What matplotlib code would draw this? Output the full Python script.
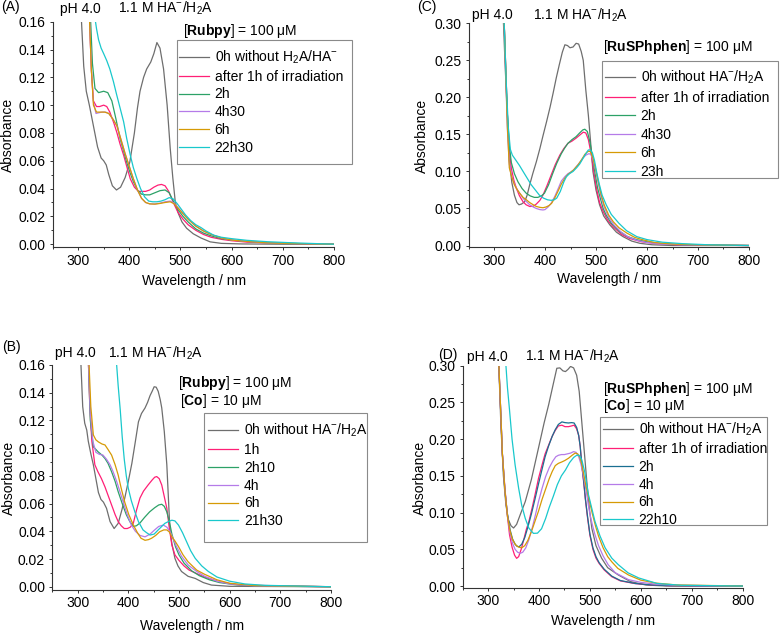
import matplotlib
matplotlib.use("Agg")
import matplotlib.pyplot as plt
from matplotlib.lines import Line2D
from matplotlib.patches import Rectangle
from matplotlib.ticker import MultipleLocator, FormatStrFormatter

plt.rcParams["font.family"] = ["Liberation Sans", "DejaVu Sans"]
plt.rcParams["mathtext.fontset"] = "custom"
plt.rcParams["mathtext.rm"] = "Liberation Sans"
plt.rcParams["mathtext.bf"] = "Liberation Sans:bold"
plt.rcParams["mathtext.it"] = "Liberation Sans:italic"
plt.rcParams["font.size"] = 10

# ---------------- data ----------------
# panel A : Rubpy, no catalyst
A_0H_WL = [306, 311, 316, 322, 330, 338, 345, 350, 355, 360, 367, 375, 383, 392, 401, 410, 416, 421, 428, 434,
           442, 448, 454, 460, 467, 474, 480, 485, 490, 496, 503, 512, 525, 540, 558, 580, 620, 700, 800]
A_0H_ABS = [0.165, 0.128, 0.110, 0.100, 0.085, 0.070, 0.062, 0.060, 0.057, 0.050, 0.042, 0.039, 0.041, 0.048,
            0.059, 0.080, 0.098, 0.110, 0.120, 0.126, 0.131, 0.137, 0.145, 0.141, 0.126, 0.100, 0.069, 0.048,
            0.030, 0.022, 0.016, 0.0115, 0.0075, 0.0045, 0.0017, 0.0006, 0.0002, 0.0, 0.0]
A_1H_WL = [322, 326, 330, 336, 342, 350, 356, 362, 370, 376, 382, 389, 395, 402, 410, 418, 425, 432, 440, 448,
           456, 463, 470, 477, 486, 495, 505, 515, 530, 545, 560, 580, 600, 630, 670, 720, 800]
A_1H_ABS = [0.165, 0.125, 0.103, 0.099, 0.099, 0.100, 0.099, 0.095, 0.087, 0.080, 0.072, 0.064, 0.056, 0.047,
            0.041, 0.038, 0.038, 0.038, 0.039, 0.041, 0.0425, 0.043, 0.042, 0.038, 0.030, 0.023, 0.018, 0.014,
            0.010, 0.007, 0.005, 0.0035, 0.0025, 0.0015, 0.001, 0.0005, 0.0]
A_2H_WL = [324, 328, 333, 340, 350, 358, 366, 374, 382, 389, 395, 402, 408, 416, 424, 432, 440, 450, 460, 470,
           478, 486, 495, 505, 515, 530, 545, 560, 580, 600, 630, 670, 720, 800]
A_2H_ABS = [0.165, 0.130, 0.112, 0.109, 0.110, 0.109, 0.103, 0.090, 0.076, 0.067, 0.059, 0.051, 0.045, 0.039,
            0.036, 0.0355, 0.0355, 0.037, 0.0385, 0.039, 0.037, 0.031, 0.025, 0.020, 0.016, 0.011, 0.008, 0.006,
            0.004, 0.003, 0.002, 0.001, 0.0005, 0.0]
A_4H_WL = [322, 326, 330, 335, 340, 347, 354, 360, 368, 376, 384, 392, 400, 408, 416, 424, 432, 440, 450, 460,
           470, 480, 488, 495, 505, 515, 530, 545, 560, 580, 600, 630, 670, 720, 800]
A_4H_ABS = [0.165, 0.125, 0.102, 0.094, 0.0945, 0.095, 0.095, 0.094, 0.090, 0.085, 0.075, 0.065, 0.056, 0.047,
            0.039, 0.033, 0.030, 0.029, 0.029, 0.0295, 0.0305, 0.031, 0.0295, 0.0265, 0.022, 0.018, 0.013,
            0.0095, 0.007, 0.0045, 0.003, 0.002, 0.001, 0.0005, 0.0]
A_6H_WL = [322, 326, 330, 336, 345, 352, 360, 368, 376, 384, 392, 400, 408, 416, 424, 432, 440, 450, 460, 470,
           480, 488, 495, 505, 515, 530, 545, 560, 580, 600, 630, 670, 720, 800]
A_6H_ABS = [0.165, 0.125, 0.100, 0.095, 0.095, 0.095, 0.094, 0.090, 0.085, 0.075, 0.065, 0.056, 0.047, 0.039,
            0.033, 0.030, 0.029, 0.0288, 0.0293, 0.030, 0.0305, 0.029, 0.026, 0.022, 0.018, 0.013, 0.0095, 0.007,
            0.0045, 0.003, 0.002, 0.001, 0.0005, 0.0]
A_22H_WL = [332, 336, 340, 345, 350, 356, 362, 369, 375, 382, 389, 395, 402, 408, 415, 422, 430, 438, 446, 454,
            462, 470, 478, 486, 494, 502, 510, 520, 530, 540, 550, 565, 580, 600, 630, 670, 720, 800]
A_22H_ABS = [0.165, 0.155, 0.147, 0.141, 0.137, 0.132, 0.126, 0.117, 0.108, 0.098, 0.088, 0.076, 0.064, 0.055,
             0.047, 0.040, 0.034, 0.031, 0.0305, 0.0305, 0.031, 0.032, 0.0335, 0.0325, 0.029, 0.025, 0.021,
             0.017, 0.014, 0.012, 0.0095, 0.0065, 0.005, 0.004, 0.0028, 0.0018, 0.001, 0.0]

# panel B : Rubpy + Co
B_0H_WL = [306, 310, 314, 318, 321, 326, 331, 336, 341, 346, 351, 357, 364, 372, 380, 387, 393, 400, 407, 414,
           420, 426, 433, 438, 443, 447, 451, 455, 459, 463, 466, 471, 476, 479, 482, 486, 492, 498, 505, 518,
           532, 548, 564, 600, 800]
B_0H_ABS = [0.165, 0.13, 0.118, 0.113, 0.105, 0.096, 0.088, 0.078, 0.068, 0.063, 0.061, 0.0566, 0.047, 0.042,
            0.0457, 0.055, 0.064, 0.076, 0.089, 0.105, 0.119, 0.125, 0.129, 0.133, 0.138, 0.141, 0.1443, 0.144,
            0.141, 0.135, 0.129, 0.112, 0.088, 0.065, 0.042, 0.031, 0.0205, 0.015, 0.011, 0.0075, 0.006, 0.003,
            0.0012, 0.0003, 0.0]
B_1H_WL = [321, 324, 328, 334, 340, 347, 354, 360, 367, 374, 380, 386, 392, 398, 404, 410, 416, 423, 430, 439,
           447, 452, 456, 461, 466, 471, 476, 481, 486, 492, 500, 510, 520, 550, 580, 620, 800]
B_1H_ABS = [0.165, 0.130, 0.105, 0.088, 0.083, 0.078, 0.072, 0.066, 0.059, 0.052, 0.047, 0.044, 0.042, 0.042,
            0.043, 0.046, 0.055, 0.064, 0.069, 0.0734, 0.077, 0.079, 0.0795, 0.078, 0.0734, 0.065, 0.0566, 0.042,
            0.030, 0.023, 0.019, 0.015, 0.012, 0.007, 0.0035, 0.0012, 0.0]
B_2H_WL = [321, 325, 331, 340, 348, 354, 360, 367, 374, 380, 388, 396, 403, 410, 416, 423, 432, 442, 452, 460,
           466, 471, 476, 481, 486, 493, 500, 510, 525, 540, 560, 580, 610, 660, 800]
B_2H_ABS = [0.165, 0.12, 0.101, 0.0975, 0.095, 0.0925, 0.089, 0.083, 0.076, 0.0686, 0.060, 0.052, 0.047,
            0.0435, 0.044, 0.046, 0.050, 0.054, 0.057, 0.059, 0.0595, 0.058, 0.054, 0.047, 0.038, 0.029, 0.023,
            0.017, 0.0115, 0.008, 0.005, 0.003, 0.0015, 0.0005, 0.0]
B_4H_WL = [321, 325, 330, 336, 343, 350, 357, 364, 370, 377, 384, 390, 398, 406, 414, 423, 433, 443, 452, 460,
           469, 476, 482, 488, 495, 505, 518, 535, 551, 575, 600, 650, 800]
B_4H_ABS = [0.165, 0.125, 0.105, 0.097, 0.0955, 0.095, 0.092, 0.088, 0.083, 0.076, 0.068, 0.061, 0.052, 0.0445,
            0.040, 0.037, 0.036, 0.038, 0.041, 0.0435, 0.0445, 0.043, 0.040, 0.035, 0.029, 0.022, 0.0157, 0.011,
            0.0075, 0.004, 0.002, 0.0006, 0.0]
B_6H_WL = [322, 326, 331, 336, 341, 348, 354, 360, 367, 374, 380, 386, 393, 401, 410, 418, 425, 433, 440, 446,
           454, 462, 470, 476, 481, 486, 492, 499, 508, 518, 535, 551, 575, 600, 650, 800]
B_6H_ABS = [0.165, 0.13, 0.1095, 0.106, 0.1045, 0.103, 0.1023, 0.099, 0.095, 0.088, 0.0806, 0.071, 0.061, 0.052,
            0.0445, 0.039, 0.035, 0.0335, 0.034, 0.035, 0.037, 0.0397, 0.041, 0.041, 0.0395, 0.036, 0.033, 0.029,
            0.023, 0.018, 0.012, 0.0089, 0.005, 0.0025, 0.0008, 0.0]
B_21H_WL = [374, 377, 380, 384, 388, 392, 396, 400, 406, 413, 420, 429, 436, 443, 451, 459, 466, 472, 479, 486,
            492, 499, 507, 515, 523, 532, 545, 558, 575, 600, 630, 670, 800]
B_21H_ABS = [0.175, 0.16, 0.145, 0.128, 0.108, 0.092, 0.080, 0.071, 0.062, 0.054, 0.047, 0.041, 0.039, 0.0373,
             0.038, 0.041, 0.0435, 0.0457, 0.047, 0.048, 0.0475, 0.0445, 0.039, 0.0325, 0.026, 0.0205, 0.015,
             0.011, 0.007, 0.004, 0.002, 0.001, 0.0]

# panel C : RuSPhphen, no catalyst
C_0H_WL = [318, 322, 326, 330, 335, 340, 345, 349, 354, 360, 365, 370, 376, 383, 390, 396, 403, 410, 416, 422,
           428, 434, 439, 444, 449, 455, 461, 466, 471, 475, 480, 485, 490, 494, 500, 507, 515, 527, 540, 553,
           570, 586, 610, 650, 800]
C_0H_ABS = [0.31, 0.24, 0.18, 0.115, 0.085, 0.068, 0.058, 0.055, 0.056, 0.059, 0.068, 0.082, 0.097, 0.113,
            0.131, 0.148, 0.167, 0.187, 0.206, 0.226, 0.244, 0.261, 0.271, 0.27, 0.267, 0.268, 0.273, 0.272,
            0.262, 0.25, 0.21, 0.176, 0.135, 0.10, 0.075, 0.055, 0.040, 0.028, 0.018, 0.012, 0.006, 0.003,
            0.001, 0.0, 0.0]
C_1H_WL = [320, 323, 326, 330, 334, 339, 344, 350, 357, 363, 370, 377, 383, 390, 396, 404, 412, 420, 429, 437,
           445, 453, 461, 468, 475, 480, 485, 491, 496, 501, 507, 514, 523, 534, 550, 566, 590, 620, 660, 800]
C_1H_ABS = [0.30, 0.24, 0.18, 0.13, 0.104, 0.088, 0.077, 0.067, 0.059, 0.055, 0.0527, 0.053, 0.056, 0.061, 0.068,
            0.081, 0.095, 0.109, 0.122, 0.131, 0.138, 0.141, 0.145, 0.149, 0.153, 0.152, 0.143, 0.122, 0.098,
            0.077, 0.058, 0.046, 0.034, 0.025, 0.015, 0.0095, 0.005, 0.0025, 0.001, 0.0]
C_2H_WL = [320, 323, 326, 330, 334, 340, 347, 355, 363, 371, 379, 386, 393, 399, 407, 415, 423, 432, 439, 445,
           453, 461, 468, 474, 478, 483, 488, 493, 498, 503, 508, 514, 520, 530, 546, 562, 579, 600, 630, 670, 800]
C_2H_ABS = [0.30, 0.24, 0.18, 0.135, 0.112, 0.097, 0.086, 0.077, 0.0707, 0.067, 0.065, 0.065, 0.067, 0.0707,
            0.082, 0.097, 0.111, 0.124, 0.132, 0.138, 0.143, 0.147, 0.152, 0.156, 0.157, 0.154, 0.140, 0.120,
            0.098, 0.078, 0.065, 0.050, 0.041, 0.030, 0.019, 0.012, 0.008, 0.005, 0.0025, 0.001, 0.0]
C_4H_WL = [320, 323, 326, 330, 335, 340, 346, 352, 358, 364, 370, 377, 383, 390, 396, 400, 406, 412, 419, 426,
           432, 439, 445, 450, 456, 462, 468, 474, 480, 486, 490, 494, 499, 504, 510, 516, 525, 535, 548, 562,
           580, 600, 630, 670, 800]
C_4H_ABS = [0.30, 0.23, 0.16, 0.11, 0.093, 0.083, 0.075, 0.069, 0.063, 0.059, 0.055, 0.052, 0.050, 0.0485, 0.048,
            0.0485, 0.052, 0.057, 0.066, 0.077, 0.087, 0.093, 0.097, 0.099, 0.102, 0.107, 0.112, 0.118, 0.122,
            0.124, 0.123, 0.116, 0.102, 0.086, 0.066, 0.052, 0.038, 0.028, 0.019, 0.012, 0.007, 0.004, 0.002,
            0.001, 0.0]
C_6H_WL = [320, 323, 326, 330, 335, 340, 344, 350, 357, 363, 370, 377, 383, 390, 396, 402, 408, 413, 419, 426,
           432, 439, 445, 449, 456, 465, 472, 478, 484, 489, 494, 499, 504, 510, 516, 525, 534, 545, 560, 576,
           592, 615, 650, 700, 800]
C_6H_ABS = [0.30, 0.235, 0.165, 0.105, 0.092, 0.082, 0.077, 0.071, 0.065, 0.062, 0.058, 0.055, 0.0527, 0.0515,
            0.051, 0.052, 0.054, 0.057, 0.064, 0.074, 0.083, 0.091, 0.096, 0.098, 0.102, 0.109, 0.116, 0.123,
            0.127, 0.127, 0.118, 0.104, 0.088, 0.069, 0.055, 0.041, 0.032, 0.024, 0.017, 0.011, 0.0077, 0.004,
            0.002, 0.001, 0.0]
C_23H_WL = [320, 324, 328, 332, 336, 340, 345, 350, 357, 365, 373, 381, 389, 397, 405, 412, 418, 423, 430, 437,
            442, 448, 455, 462, 468, 474, 480, 485, 489, 493, 497, 501, 506, 512, 520, 530, 545, 560, 580, 600,
            630, 670, 720, 800]
C_23H_ABS = [0.30, 0.22, 0.16, 0.13, 0.122, 0.118, 0.113, 0.108, 0.100, 0.091, 0.082, 0.075, 0.068, 0.064,
             0.0617, 0.061, 0.0617, 0.064, 0.073, 0.086, 0.093, 0.097, 0.100, 0.105, 0.110, 0.117, 0.124, 0.129,
             0.129, 0.125, 0.115, 0.100, 0.084, 0.068, 0.055, 0.042, 0.030, 0.020, 0.012, 0.008, 0.0045, 0.0025,
             0.001, 0.0]

# panel D : RuSPhphen + Co
D_0H_WL = [320, 325, 330, 335, 340, 345, 350, 356, 363, 373, 385, 399, 410, 419, 428, 435, 441, 447, 452, 457,
           462, 468, 474, 479, 484, 489, 494, 499, 504, 512, 523, 535, 556, 580, 610, 650, 800]
D_0H_ABS = [0.32, 0.22, 0.15, 0.11, 0.09, 0.082, 0.079, 0.084, 0.097, 0.115, 0.145, 0.188, 0.222, 0.247, 0.275,
            0.2965, 0.297, 0.293, 0.292, 0.295, 0.299, 0.297, 0.287, 0.265, 0.224, 0.183, 0.142, 0.105, 0.078,
            0.055, 0.038, 0.025, 0.015, 0.006, 0.0014, 0.0, 0.0]
D_1H_WL = [320, 324, 328, 333, 338, 342, 347, 352, 356, 360, 365, 370, 375, 380, 387, 393, 399, 406, 412, 419,
           426, 432, 438, 445, 451, 458, 464, 469, 474, 478, 481, 484, 488, 491, 495, 500, 506, 512, 518, 528,
           543, 560, 589, 620, 660, 800]
D_1H_ABS = [0.32, 0.25, 0.18, 0.133, 0.095, 0.070, 0.053, 0.042, 0.0377, 0.040, 0.050, 0.063, 0.077, 0.0876,
            0.108, 0.127, 0.1466, 0.165, 0.180, 0.192, 0.204, 0.212, 0.218, 0.219, 0.217, 0.217, 0.218, 0.219,
            0.214, 0.205, 0.19, 0.165, 0.14, 0.119, 0.095, 0.0694, 0.050, 0.038, 0.031, 0.022, 0.0127, 0.007,
            0.0033, 0.0015, 0.0005, 0.0]
D_2H_WL = [320, 324, 328, 333, 338, 343, 348, 353, 357, 361, 366, 372, 378, 385, 392, 399, 406, 412, 419, 426,
           432, 438, 445, 451, 458, 464, 469, 474, 478, 481, 484, 488, 491, 495, 500, 506, 512, 518, 528, 543,
           560, 589, 620, 660, 800]
D_2H_ABS = [0.32, 0.25, 0.18, 0.13, 0.097, 0.077, 0.064, 0.057, 0.054, 0.0535, 0.057, 0.066, 0.080, 0.098,
            0.118, 0.139, 0.159, 0.176, 0.191, 0.204, 0.213, 0.220, 0.2235, 0.2225, 0.222, 0.2225, 0.222, 0.216,
            0.205, 0.19, 0.166, 0.142, 0.12, 0.097, 0.071, 0.052, 0.040, 0.032, 0.023, 0.0135, 0.0075, 0.0035,
            0.0015, 0.0005, 0.0]
D_4H_WL = [320, 324, 328, 333, 338, 343, 348, 353, 358, 363, 368, 374, 380, 387, 393, 399, 406, 413, 420, 427,
           433, 438, 444, 450, 456, 462, 468, 473, 478, 482, 486, 490, 494, 497, 501, 505, 510, 517, 526, 536,
           550, 576, 600, 630, 670, 800]
D_4H_ABS = [0.32, 0.25, 0.18, 0.13, 0.095, 0.072, 0.058, 0.050, 0.046, 0.0445, 0.046, 0.052, 0.063, 0.080,
            0.097, 0.115, 0.133, 0.149, 0.161, 0.170, 0.176, 0.178, 0.179, 0.179, 0.180, 0.181, 0.183, 0.182,
            0.176, 0.167, 0.155, 0.14, 0.124, 0.11, 0.095, 0.083, 0.07, 0.055, 0.041, 0.029, 0.018, 0.0087,
            0.005, 0.0025, 0.001, 0.0]
D_6H_WL = [320, 324, 328, 333, 338, 343, 348, 354, 360, 366, 372, 378, 385, 392, 399, 406, 413, 420, 426, 432,
           438, 445, 451, 458, 465, 471, 476, 480, 484, 488, 492, 496, 500, 505, 511, 517, 526, 535, 543, 555,
           576, 600, 630, 670, 800]
D_6H_ABS = [0.32, 0.25, 0.18, 0.13, 0.095, 0.075, 0.063, 0.056, 0.053, 0.052, 0.055, 0.062, 0.074, 0.088, 0.102,
            0.118, 0.132, 0.146, 0.156, 0.164, 0.167, 0.169, 0.171, 0.174, 0.178, 0.181, 0.18, 0.176, 0.166,
            0.152, 0.137, 0.125, 0.113, 0.098, 0.082, 0.068, 0.052, 0.040, 0.033, 0.024, 0.015, 0.008, 0.004,
            0.0015, 0.0]
D_22H_WL = [334, 338, 342, 347, 353, 360, 366, 373, 380, 389, 397, 405, 413, 420, 428, 436, 444, 452, 460, 468,
            474, 479, 484, 490, 497, 504, 510, 520, 530, 543, 556, 575, 596, 632, 680, 800]
D_22H_ABS = [0.31, 0.27, 0.24, 0.20, 0.165, 0.133, 0.11, 0.092, 0.079, 0.0717, 0.072, 0.078, 0.092, 0.107, 0.122,
             0.138, 0.150, 0.158, 0.168, 0.175, 0.178, 0.178, 0.172, 0.155, 0.125, 0.105, 0.088, 0.068, 0.052,
             0.038, 0.029, 0.018, 0.011, 0.0035, 0.001, 0.0]

GRAY, PINK, GREEN, PURPLE, ORANGE, CYAN, TEAL = ("#6e6e6e", "#ff1f76", "#2ca167", "#b57be8",
                                                 "#d69a05", "#19c8cc", "#1a6f91")
HA = r"HA$^{-}$/H$_2$A"

W, H = 780, 635
fig = plt.figure(figsize=(W / 100, H / 100), dpi=100)


def fx(x):
    return x / W


def fy(y):
    return 1 - y / H


def panel(box, ymax, ystep, series, labels, colors, texts, legend_anchor, legend_box, spacing, xlab, ylab):
    left, top, right, bottom = box
    ax = fig.add_axes([fx(left), fy(bottom), fx(right - left), (bottom - top) / H])
    for (wl, ab), c in zip(series, colors):
        ax.plot(wl, ab, color=c, lw=0.9)
    ax.set_xlim(250, 800)
    ax.set_ylim(-0.002, ymax)
    for s in ("top", "right"):
        ax.spines[s].set_visible(False)
    for s in ("left", "bottom"):
        ax.spines[s].set_linewidth(0.8)
        ax.spines[s].set_color("#333333")
    ax.xaxis.set_major_locator(MultipleLocator(100))
    ax.xaxis.set_minor_locator(MultipleLocator(50))
    ax.yaxis.set_major_locator(MultipleLocator(ystep))
    ax.yaxis.set_minor_locator(MultipleLocator(ystep / 2))
    ax.yaxis.set_major_formatter(FormatStrFormatter("%.2f"))
    ax.tick_params(which="both", direction="out", width=0.7, color="#333333", labelsize=10)
    ax.tick_params(which="major", length=2.2)
    ax.tick_params(which="minor", length=1.5)
    ax.tick_params(axis="y", pad=3)
    ax.tick_params(axis="x", pad=2.5)

    handles = [Line2D([], [], color=c, lw=0.9) for c in colors]
    ax.legend(handles, labels, loc="upper left", bbox_to_anchor=(fx(legend_anchor[0]), fy(legend_anchor[1])),
              bbox_transform=fig.transFigure, frameon=False, borderpad=0, borderaxespad=0,
              handlelength=2.15, handletextpad=0.42, labelspacing=spacing, fontsize=10)
    x0, y0, x1, y1 = legend_box
    fig.add_artist(Rectangle((fx(x0), fy(y1)), (x1 - x0) / W, (y1 - y0) / H, transform=fig.transFigure,
                             fill=False, edgecolor="#8a8a8a", lw=0.8))
    for x, y, s in texts:
        fig.text(fx(x), fy(y), s, va="baseline", ha="left", fontsize=10)
    fig.text(fx(xlab[0]), fy(xlab[1]), "Wavelength / nm", ha="center", va="baseline", fontsize=10)
    fig.text(fx(ylab[0]), fy(ylab[1]), "Absorbance", ha="center", va="center", rotation=90, fontsize=10)
    return ax


panel((52.5, 21.7, 334, 247), 0.16, 0.02,
      [(A_0H_WL, A_0H_ABS), (A_1H_WL, A_1H_ABS), (A_2H_WL, A_2H_ABS), (A_4H_WL, A_4H_ABS),
       (A_6H_WL, A_6H_ABS), (A_22H_WL, A_22H_ABS)],
      [r"0h without H$_2$A/HA$^{-}$", "after 1h of irradiation", "2h", "4h30", "6h", "22h30"],
      [GRAY, PINK, GREEN, PURPLE, ORANGE, CYAN],
      [(1, 11.5, "(A)"), (60, 12.5, "pH 4.0"), (118.3, 12.5, "1.1 M " + HA),
       (183, 35, r"[$\mathbf{Rubpy}$] = 100 μM")],
      (179, 48.5), (176.7, 40, 352.3, 164), 0.27, (194, 285), (8, 134.5))

panel((52.3, 365, 331, 589.5), 0.16, 0.02,
      [(B_0H_WL, B_0H_ABS), (B_1H_WL, B_1H_ABS), (B_2H_WL, B_2H_ABS), (B_4H_WL, B_4H_ABS),
       (B_6H_WL, B_6H_ABS), (B_21H_WL, B_21H_ABS)],
      ["0h without " + HA, "1h", "2h10", "4h", "6h", "21h30"],
      [GRAY, PINK, GREEN, PURPLE, ORANGE, CYAN],
      [(1.7, 351.5, "(B)"), (55, 357.3, "pH 4.0"), (108.3, 357.3, "1.1 M " + HA),
       (178, 387, r"[$\mathbf{Rubpy}$] = 100 μM"), (180, 405, r"[$\mathbf{Co}$] = 10 μM")],
      (208.3, 422), (204, 413, 367, 542), 0.27, (191.7, 630), (9.2, 477.5))

panel((468.5, 23.3, 749, 247), 0.30, 0.05,
      [(C_0H_WL, C_0H_ABS), (C_1H_WL, C_1H_ABS), (C_2H_WL, C_2H_ABS), (C_4H_WL, C_4H_ABS),
       (C_6H_WL, C_6H_ABS), (C_23H_WL, C_23H_ABS)],
      ["0h without " + HA, "after 1h of irradiation", "2h", "4h30", "6h", "23h"],
      [GRAY, PINK, GREEN, PURPLE, ORANGE, CYAN],
      [(416.7, 11.5, "(C)"), (471.7, 19.5, "pH 4.0"), (532.7, 19.5, "1.1 M " + HA),
       (603, 50.7, r"[$\mathbf{RuSPhphen}$] = 100 μM")],
      (605, 69), (602, 61, 778, 178), 0.32, (609, 283.5), (422, 136))

panel((462.7, 365.7, 742.5, 587.5), 0.30, 0.05,
      [(D_0H_WL, D_0H_ABS), (D_1H_WL, D_1H_ABS), (D_2H_WL, D_2H_ABS), (D_4H_WL, D_4H_ABS),
       (D_6H_WL, D_6H_ABS), (D_22H_WL, D_22H_ABS)],
      ["0h without " + HA, "after 1h of irradiation", "2h", "4h", "6h", "22h10"],
      [GRAY, PINK, TEAL, PURPLE, ORANGE, CYAN],
      [(438, 358.5, "(D)"), (467.3, 360.7, "pH 4.0"), (525, 360.7, "1.1 M " + HA),
       (603, 393.3, r"[$\mathbf{RuSPhphen}$] = 100 μM"), (603, 410, r"[$\mathbf{Co}$] = 10 μM")],
      (603, 420.5), (600, 417, 767, 525), 0.28, (603.3, 625.5), (420, 478))

fig.savefig("out.png", dpi=100)
